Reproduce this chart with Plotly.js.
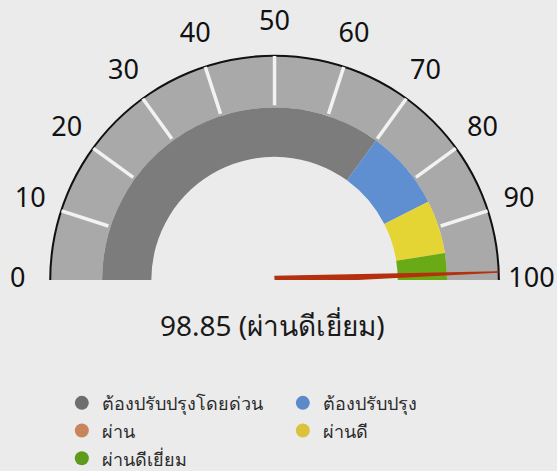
<!DOCTYPE html>
<html>
<head>
<meta charset="utf-8">
<script src="https://cdn.plot.ly/plotly-3.0.1.min.js"></script>
<style>html,body{margin:0;padding:0;background:#ebebeb;}#chart{width:557px;height:471px;}</style>
</head>
<body>
<div id="chart"></div>
<script>
// ---- data ----
const gaugeMin = 0;
const gaugeMax = 100;
const tickValues = [0, 10, 20, 30, 40, 50, 60, 70, 80, 90, 100];
const tickLabels = ['0', '10', '20', '30', '40', '50', '60', '70', '80', '90', '100'];
const innerTickValues = [10, 20, 30, 40, 50, 60, 70, 80, 90];
const bandNames = ['ต้องปรับปรุงโดยด่วน', 'ต้องปรับปรุง', 'ผ่าน', 'ผ่านดี', 'ผ่านดีเยี่ยม'];
const bandStart = [0, 70, 85, 85, 95];
const bandEnd = [70, 85, 85, 95, 100];
const score = 98.85;
const scoreLabel = 'ผ่านดีเยี่ยม';

// ---- styles ----
const bandColors = ['#7c7c7c', '#5f8fd0', '#c98a5c', '#e4d434', '#6aaa16'];
const legendColors = ['#6e6e6e', '#5b8ac8', '#c8845a', '#dcc23c', '#5e9a1c'];
const ringColor = '#a9a9a9';
const needleColor = '#b5300e';
const FONT = 'Noto Sans, Lato, sans-serif';
const R_INNER = 0.55, R_MID = 0.77, R_OUTER = 1.0, R_LABEL = 1.147, R_MAX = 1.15;

const toDeg = v => (v - gaugeMin) / (gaugeMax - gaugeMin) * 180;

const traces = [];
// outer ring
traces.push({
  type: 'barpolar',
  theta: [toDeg((gaugeMin + gaugeMax) / 2)],
  width: [toDeg(gaugeMax) - toDeg(gaugeMin)],
  base: [R_MID], r: [R_OUTER - R_MID],
  marker: {color: ringColor, line: {width: 0}},
  showlegend: false, hoverinfo: 'skip'
});
// inner bands
bandNames.forEach((n, i) => {
  traces.push({
    type: 'barpolar',
    theta: [toDeg((bandStart[i] + bandEnd[i]) / 2)],
    width: [toDeg(bandEnd[i]) - toDeg(bandStart[i])],
    base: [R_INNER], r: [R_MID - R_INNER],
    marker: {color: bandColors[i], line: {width: 0}},
    showlegend: false, name: n
  });
});
// white tick marks in ring
const tr = [], tt = [];
innerTickValues.forEach(v => { tr.push(R_OUTER, R_MID + 0.01, null); tt.push(toDeg(v), toDeg(v), null); });
traces.push({
  type: 'scatterpolar', mode: 'lines', r: tr, theta: tt,
  line: {color: '#f2f2f2', width: 3.5}, showlegend: false, hoverinfo: 'skip'
});
// outer black arc
traces.push({
  type: 'barpolar',
  theta: [toDeg((gaugeMin + gaugeMax) / 2)],
  width: [toDeg(gaugeMax) - toDeg(gaugeMin)],
  base: [R_OUTER - 0.003], r: [0.009],
  marker: {color: '#111', line: {width: 0}},
  showlegend: false, hoverinfo: 'skip'
});
// tick labels
traces.push({
  type: 'scatterpolar', mode: 'text', cliponaxis: false,
  r: tickValues.map(() => R_LABEL), theta: tickValues.map(toDeg),
  text: tickLabels, textposition: 'middle center',
  textfont: {size: 27, color: '#111', family: FONT},
  showlegend: false, hoverinfo: 'skip'
});
// needle
const th = toDeg(score);
traces.push({
  type: 'scatterpolar', mode: 'lines', fill: 'toself', fillcolor: needleColor,
  r: [0.016, 1.0, 0.016], theta: [th - 90, th, th + 90],
  line: {color: needleColor, width: 1.5}, showlegend: false, hoverinfo: 'skip'
});
// legend entries
bandNames.forEach((n, i) => {
  traces.push({
    type: 'scatterpolar', mode: 'markers', r: [null], theta: [null],
    name: '<span style="font-size:18px">' + n + '</span>',
    marker: {color: legendColors[i], size: 14, symbol: 'circle'}
  });
});

const layout = {
  width: 557, height: 471,
  paper_bgcolor: '#ebebeb', plot_bgcolor: '#ebebeb',
  margin: {l: 0, r: 0, t: 0, b: 0, autoexpand: false},
  font: {family: FONT, color: '#1a1a1a'},
  showlegend: true,
  legend: {
    orientation: 'h', x: 0.111, xanchor: 'left', y: 0.1847, yanchor: 'top',
    entrywidth: 176, entrywidthmode: 'pixels',
    font: {size: 19, color: '#2a2a2a', family: FONT},
    bgcolor: 'rgba(0,0,0,0)'
  },
  polar: {
    domain: {x: [0.0304, 0.9554], y: [0.4055, 0.9524]},
    sector: [0, 180], hole: 0,
    bgcolor: 'rgba(0,0,0,0)',
    radialaxis: {visible: false, range: [0, R_MAX]},
    angularaxis: {
      rotation: 180, direction: 'clockwise', thetaunit: 'degrees',
      showticklabels: false, ticks: '',
      showline: false, showgrid: false
    }
  },
  annotations: [{
    text: score.toFixed(2) + ' (' + scoreLabel + ')',
    x: 0.489, y: 0.31, xref: 'paper', yref: 'paper', xanchor: 'center', yanchor: 'middle',
    showarrow: false, font: {size: 28, color: '#1a1a1a', family: FONT}
  }]
};

Plotly.newPlot('chart', traces, layout, {displayModeBar: false, staticPlot: true});
</script>
</body>
</html>
